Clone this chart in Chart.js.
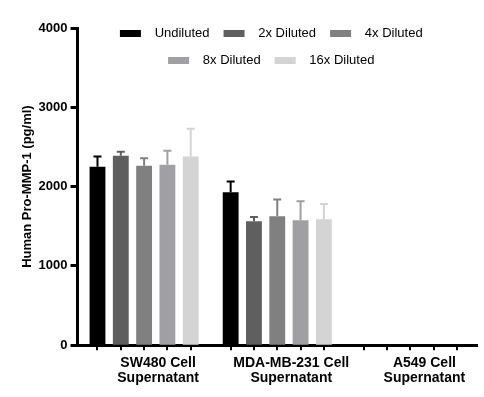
<!DOCTYPE html>
<html>
<head>
	<script src="https://cdn.jsdelivr.net/npm/chart.js@4.4.0/dist/chart.umd.min.js"></script>
	<title>Pro-MMP-1</title>
	<style>
		body { margin: 0; background: #fff; }
		#wrap { width: 484px; height: 397px; }
	</style>
</head>
<body>
<div id="wrap"><canvas id="chart" width="484" height="397"></canvas></div>
<script type="text/javascript">
	const groups = [['SW480 Cell', 'Supernatant'], ['MDA-MB-231 Cell', 'Supernatant'], ['A549 Cell', 'Supernatant']];
	const seriesNames = ['Undiluted', '2x Diluted', '4x Diluted', '8x Diluted', '16x Diluted'];
	const colors = ['#000000', '#5f5f5f', '#808080', '#a0a0a4', '#d4d4d4'];
	// mean values per series (SW480, MDA-MB-231, A549)
	const undiluted = [2250, 1930, 0];
	const diluted2x = [2390, 1562, 0];
	const diluted4x = [2262, 1625, 0];
	const diluted8x = [2275, 1575, 0];
	const diluted16x = [2378, 1587, 0];
	// upper end of the error bars
	const errUndiluted = [2380, 2065, null];
	const err2x = [2440, 1617, null];
	const err4x = [2358, 1837, null];
	const err8x = [2452, 1816, null];
	const err16x = [2728, 1781, null];
	const yTicks = [0, 1000, 2000, 3000, 4000];

	const values = [undiluted, diluted2x, diluted4x, diluted8x, diluted16x];
	const errors = [errUndiluted, err2x, err4x, err8x, err16x];

	const errorBars = {
		id: 'errorBars',
		afterDatasetsDraw(chart) {
			const ctx = chart.ctx;
			const y = chart.scales.y;
			chart.data.datasets.forEach((ds, i) => {
				const meta = chart.getDatasetMeta(i);
				meta.data.forEach((bar, j) => {
					const e = errors[i][j];
					if (e == null) return;
					const top = y.getPixelForValue(e);
					ctx.save();
					ctx.strokeStyle = colors[i];
					ctx.lineWidth = 2;
					ctx.beginPath();
					ctx.moveTo(bar.x, bar.y);
					ctx.lineTo(bar.x, top);
					ctx.moveTo(bar.x - 4, top);
					ctx.lineTo(bar.x + 4, top);
					ctx.stroke();
					ctx.restore();
				});
			});
			// small ticks under the x axis at every bar
			const b = chart.chartArea.bottom;
			ctx.save();
			ctx.strokeStyle = '#000';
			ctx.lineWidth = 2;
			chart.data.datasets.forEach((ds, i) => {
				chart.getDatasetMeta(i).data.forEach(bar => {
					ctx.beginPath();
					ctx.moveTo(Math.round(bar.x), b);
					ctx.lineTo(Math.round(bar.x), b + 5);
					ctx.stroke();
				});
			});
			ctx.restore();
		}
	};

	// legend takes little room in the layout but is drawn over the plot top
	const legendOverlay = {
		id: 'legendOverlay',
		afterLayout(chart) {
			const lg = chart.legend;
			lg.height = 80;
			lg.bottom = lg.top + 80;
			lg.left -= 6;
			lg.right -= 6;
		}
	};

	const ctx = document.getElementById('chart').getContext('2d');
	const myChart = new Chart(ctx, {
		type: 'bar',
		data: {
			labels: groups,
			datasets: seriesNames.map((name, i) => ({
				label: name,
				data: values[i],
				backgroundColor: colors[i],
				borderWidth: 0,
				categoryPercentage: 0.875,
				barPercentage: 0.68
			}))
		},
		options: {
			responsive: false,
			animation: false,
			devicePixelRatio: 1,
			layout: { padding: { left: 20, right: 7, top: 13, bottom: 9 } },
			plugins: {
				tooltip: { enabled: false },
				legend: {
					position: 'top',
					fullSize: false,
					align: 'center',
					maxHeight: 15,
					labels: {
						boxWidth: 21,
						boxHeight: 7,
						padding: 14,
						color: '#000',
						font: { family: 'Arial, "Liberation Sans"', size: 13 },
						generateLabels: chart => Chart.defaults.plugins.legend.labels.generateLabels(chart)
							.map(item => Object.assign(item, { text: '  ' + item.text }))
					}
				}
			},
			scales: {
				x: {
					grid: { display: false },
					border: { display: true, width: 3, color: '#000' },
					ticks: {
						color: '#000',
						padding: 2,
						labelOffset: 14,
						maxRotation: 0,
						autoSkip: false,
						font: { family: 'Arial, "Liberation Sans"', size: 14, weight: 'bold', lineHeight: 1.1 }
					}
				},
				y: {
					min: yTicks[0],
					max: yTicks[yTicks.length - 1],
					afterBuildTicks: axis => { axis.ticks = yTicks.map(v => ({ value: v })); },
					ticks: {
						color: '#000',
						padding: 3,
						callback: v => String(v),
						font: { family: 'Arial, "Liberation Sans"', size: 13, weight: 'bold' }
					},
					grid: { drawOnChartArea: false, drawTicks: true, tickLength: 7, tickWidth: 3, color: '#000' },
					border: { display: true, width: 3, color: '#000' },
					title: {
						display: true,
						text: 'Human Pro-MMP-1 (pg/ml)',
						color: '#000',
						padding: { top: 0, bottom: 0 },
						font: { family: 'Arial, "Liberation Sans"', size: 13, weight: 'bold' }
					}
				}
			}
		},
		plugins: [errorBars, legendOverlay]
	});
</script>
</body>
</html>
